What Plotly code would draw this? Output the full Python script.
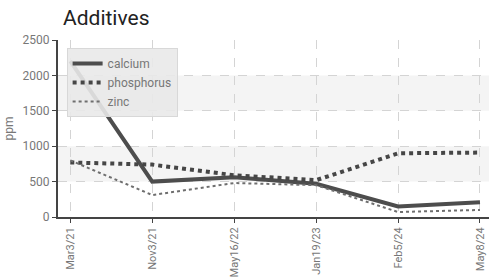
import plotly.graph_objects as go

dates = ["Mar3/21", "Nov3/21", "May16/22", "Jan19/23", "Feb5/24", "May8/24"]
calcium = [2200, 500, 560, 470, 150, 210]
phosphorus = [770, 740, 590, 520, 900, 910]
zinc = [800, 310, 480, 450, 70, 100]
y_ticks = [0, 500, 1000, 1500, 2000, 2500]

FONT = "Roboto, sans-serif"
x_idx = list(range(len(dates)))

fig = go.Figure()
fig.add_trace(go.Scatter(x=x_idx, y=calcium, name="calcium", mode="lines",
                         line=dict(color="#4d4d4d", width=4)))
fig.add_trace(go.Scatter(x=x_idx, y=phosphorus, name="phosphorus", mode="lines",
                         line=dict(color="#464646", width=4, dash="dot")))
fig.add_trace(go.Scatter(x=x_idx, y=zinc, name="zinc", mode="lines",
                         line=dict(color="#6e6e6e", width=2, dash="dot")))

for lo, hi in [(500, 1000), (1500, 2000)]:
    fig.add_shape(type="rect", xref="paper", yref="y", x0=0, x1=1, y0=lo, y1=hi,
                  fillcolor="#f4f4f4", line_width=0, layer="below")

fig.update_layout(
    width=496, height=279,
    margin=dict(l=58, r=7, t=40, b=62, autoexpand=False),
    paper_bgcolor="white", plot_bgcolor="white",
    title=dict(text="Additives", x=63/496, xref="container", xanchor="left",
               y=1-18/279, yref="container", yanchor="middle",
               font=dict(family="Roboto, sans-serif", size=21, color="#222")),
    font=dict(family=FONT, size=12, color="#777"),
    showlegend=True,
    legend=dict(x=0.02, y=0.955, xanchor="left", yanchor="top",
                bgcolor="rgba(233,233,233,0.9)", bordercolor="#d8d8d8", borderwidth=1,
                font=dict(family=FONT, size=12, color="#777"),
                tracegroupgap=0, itemwidth=30),
    xaxis=dict(range=[-0.15, 5.11], tickmode="array", tickvals=x_idx, ticktext=dates,
               tickangle=-90, tickfont=dict(size=11),
               showgrid=True, gridcolor="#d4d4d4", griddash="dash",
               zeroline=False, showline=True, linecolor="#444", linewidth=2,
               ticks="outside", ticklen=4, tickcolor="#444", automargin=False),
    yaxis=dict(range=[0, 2500], tickvals=y_ticks, showgrid=True, gridcolor="#d4d4d4",
               griddash="dash", zeroline=False, showline=True, linecolor="#444", linewidth=2,
               ticks="outside", ticklen=4, tickcolor="#444", automargin=False,
               title=dict(text="ppm", standoff=6, font=dict(family=FONT, size=12, color="#777"))),
)

fig.write_html("out.html", config={"displayModeBar": False},
               post_script="document.body.style.margin='0';")
